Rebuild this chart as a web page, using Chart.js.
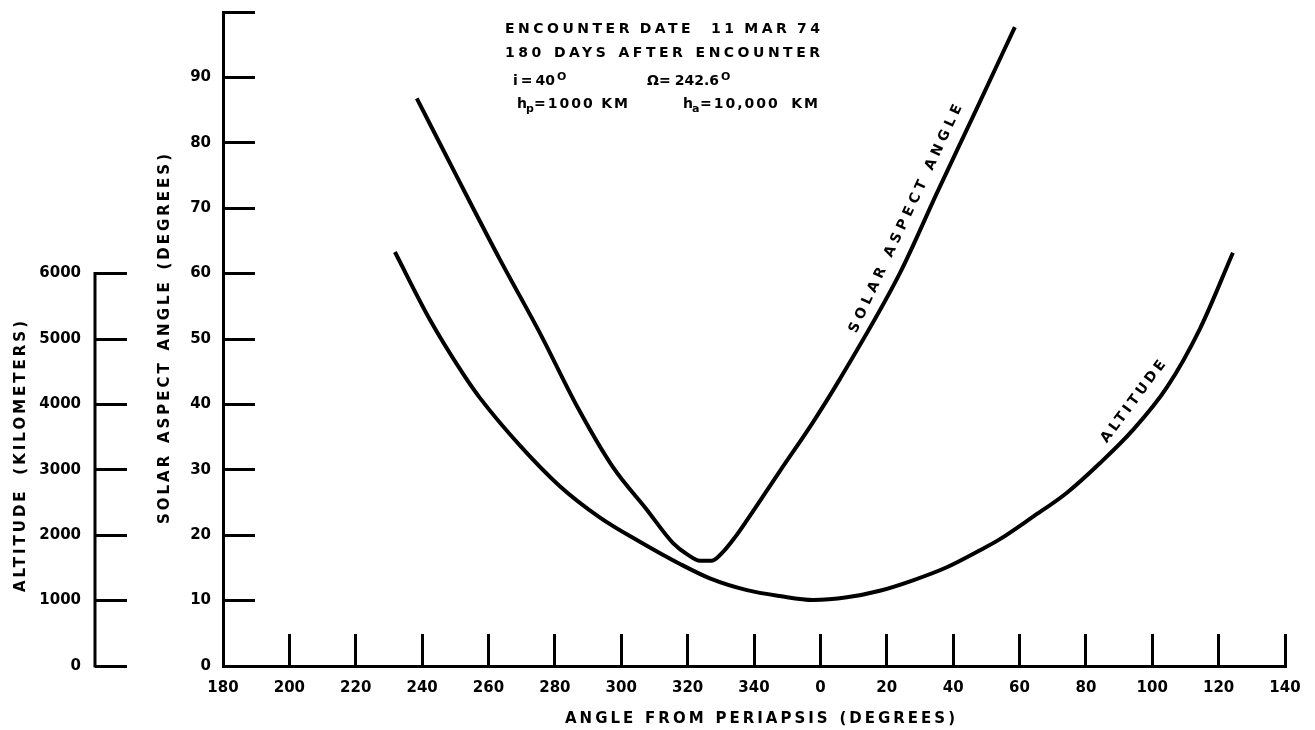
<!DOCTYPE html>
<html>
<head>
<meta charset="utf-8">
<title>Altitude and solar aspect angle vs angle from periapsis</title>
<script src="https://cdn.jsdelivr.net/npm/chart.js@4.4.0/dist/chart.umd.min.js"></script>
<style>
    html, body { margin: 0; padding: 0; background: #fff; }
    #wrap { width: 1315px; height: 730px; position: relative; }
</style>
</head>
<body>
<div id="wrap"><canvas id="orbitChart"></canvas></div>
<script>
// --- Values (angles as printed on the axis, 180..360..140) ---
const xTickStep = 20;
const xMin = -180;   // printed "180"
const xMax = 140;

const solarAngleDeg = [238.4, 251.4, 263.5, 275.5, 287.0, 297.5, 307.7, 315.6, 320.1, 323.7, 327.3, 330.6, 334.3, 337.9, 347.8, 357.8, 5.9, 24.0, 35.1, 46.9, 58.6];
const solarAspect   = [86.8, 73.9, 62.1, 50.9, 39.4, 30.4, 23.9, 18.8, 17.0, 16.1, 16.1, 17.4, 19.7, 22.3, 29.8, 37.3, 43.9, 60.1, 72.3, 85.0, 97.7];

const altAngleDeg = [231.8, 242.4, 252.3, 257.4, 269.5, 281.5, 293.6, 305.6, 317.7, 326.7, 337.9, 347.8, 357.8, 8.0, 17.9, 27.9, 38.1, 48.1, 54.1, 64.0, 74.3, 84.2, 94.2, 104.4, 114.4, 124.3];
const altitudeKm  = [6330, 5290, 4470, 4100, 3370, 2750, 2270, 1900, 1560, 1340, 1160, 1070, 1010, 1050, 1150, 1310, 1510, 1770, 1940, 2280, 2650, 3100, 3610, 4260, 5160, 6320];

const solarTickMax = 100;
const altTickMax = 6000;

const noteLines = ['ENCOUNTER DATE  11 MAR 74', '180 DAYS AFTER ENCOUNTER'];

const INK = '#000';
const FONT = '"DejaVu Sans", sans-serif';

// angles past 180 are drawn left of periapsis
const toAxis = a => (a >= 180 ? a - 360 : a);
const toLabel = v => String(v < 0 ? v + 360 : v);

Chart.defaults.font.family = FONT;
Chart.defaults.font.size = 15;
Chart.defaults.font.weight = 'bold';
Chart.defaults.color = INK;

// lettering: fixed tracking, word gaps stretched so the line fills `width`
function drawWords(ctx, text, x, y, width, tracking) {
    const words = text.split(' ');
    ctx.letterSpacing = '0px';
    const sizes = words.map(w => (w ? ctx.measureText(w).width + tracking * (w.length - 1) : 0));
    const used = sizes.reduce((a, b) => a + b, 0);
    const gap = words.length > 1 ? (width - used) / (words.length - 1) : 0;
    ctx.letterSpacing = tracking + 'px';
    let cx = x;
    words.forEach((w, i) => {
        if (w) ctx.fillText(w, cx, y);
        cx += sizes[i] + gap;
    });
    ctx.letterSpacing = '0px';
}

function labelOnCurve(ctx, xs, ys, from, to, start, text, width, tracking, offset) {
    const ax = xs.getPixelForValue(from[0]), ay = ys.getPixelForValue(from[1]);
    const bx = xs.getPixelForValue(to[0]), by = ys.getPixelForValue(to[1]);
    const ang = Math.atan2(by - ay, bx - ax);
    ctx.save();
    ctx.translate(xs.getPixelForValue(start[0]), ys.getPixelForValue(start[1]));
    ctx.rotate(ang);
    drawWords(ctx, text, 0, -offset, width, tracking);
    ctx.restore();
}

const decorPlugin = {
    id: 'decor',
    beforeDraw(chart) {
        chart.ctx.letterSpacing = '0px';
    },
    afterDraw(chart) {
        const { ctx, chartArea, scales: { x, y, alt } } = chart;
        ctx.save();
        ctx.fillStyle = INK;
        ctx.strokeStyle = INK;

        // altitude spine only runs 0..6000
        ctx.lineWidth = 3;
        ctx.beginPath();
        ctx.moveTo(alt.right, alt.getPixelForValue(0) + 1.5);
        ctx.lineTo(alt.right, alt.getPixelForValue(altTickMax) - 1.5);
        ctx.stroke();

        ctx.textAlign = 'left';
        ctx.textBaseline = 'alphabetic';

        // axis titles
        ctx.font = 'bold 15px ' + FONT;
        const midX = (chartArea.left + chartArea.right) / 2 + 6;
        drawWords(ctx, 'ANGLE FROM PERIAPSIS (DEGREES)', midX - 195, 723, 390, 3);

        ctx.save();
        ctx.translate(169, (chartArea.top + chartArea.bottom) / 2);
        ctx.rotate(-Math.PI / 2);
        drawWords(ctx, 'SOLAR ASPECT ANGLE (DEGREES)', -185, 0, 370, 3);
        ctx.restore();

        ctx.save();
        ctx.translate(25, 457);
        ctx.rotate(-Math.PI / 2);
        drawWords(ctx, 'ALTITUDE (KILOMETERS)', -135, 0, 271, 3);
        ctx.restore();

        // orbit notes
        ctx.font = 'bold 14px ' + FONT;
        drawWords(ctx, noteLines[0], 505, 33, 315, 3.5);
        drawWords(ctx, noteLines[1], 505, 57, 315, 3.5);
        drawWords(ctx, 'i = 40', 513, 85, 42, 0);
        drawWords(ctx, '\u03A9= 242.6', 647, 85, 72, 0);
        drawWords(ctx, 'h', 517, 108, 0, 0);
        drawWords(ctx, '=1000 KM', 534, 108, 94, 2);
        drawWords(ctx, 'h', 683, 108, 0, 0);
        drawWords(ctx, '=10,000 KM', 700, 108, 118, 2);
        ctx.font = 'bold 11px ' + FONT;
        ctx.fillText('O', 557, 80);
        ctx.fillText('O', 721, 80);
        ctx.fillText('p', 526, 112);
        ctx.fillText('a', 692, 112);

        // curve labels
        ctx.font = 'bold 14px ' + FONT;
        labelOnCurve(ctx, x, y, [24.0, 60.1], [46.9, 85.0], [13, 50.3], 'SOLAR ASPECT ANGLE', 250, 4.5, 8);
        labelOnCurve(ctx, x, alt, [84.2, 3100], [114.4, 5160], [88.5, 3319], 'ALTITUDE', 103, 3.5, 9);

        ctx.restore();
    }
};

// tick padding pushes labels clear of the inward ticks; keep it out of the layout padding
function fixPadding(s) {
    s.paddingTop = 0; s.paddingBottom = 0; s.paddingLeft = 0; s.paddingRight = 0;
}

const ctx = document.getElementById('orbitChart').getContext('2d');
new Chart(ctx, {
    type: 'line',
    data: {
        datasets: [
            {
                label: 'Solar aspect angle',
                data: solarAngleDeg.map((a, i) => ({ x: toAxis(a), y: solarAspect[i] })),
                yAxisID: 'y',
                borderColor: INK, borderWidth: 4, pointRadius: 0,
                cubicInterpolationMode: 'monotone', fill: false
            },
            {
                label: 'Altitude',
                data: altAngleDeg.map((a, i) => ({ x: toAxis(a), y: altitudeKm[i] })),
                yAxisID: 'alt',
                borderColor: INK, borderWidth: 4, pointRadius: 0,
                cubicInterpolationMode: 'monotone', fill: false
            }
        ]
    },
    options: {
        responsive: true, maintainAspectRatio: false, animation: false,
        layout: { padding: { top: 12, right: 30, left: 0, bottom: 0 } },
        plugins: { legend: { display: false }, tooltip: { enabled: false } },
        scales: {
            x: {
                type: 'linear', position: 'bottom', min: xMin, max: xMax,
                ticks: { stepSize: xTickStep, callback: v => toLabel(v), padding: 45, maxRotation: 0, autoSkip: false },
                grid: { drawOnChartArea: false, tickLength: -32, lineWidth: 3, color: INK },
                border: { color: INK, width: 3 },
                afterFit: s => { s.height = 64; fixPadding(s); }
            },
            y: {
                type: 'linear', position: 'left', weight: 0, min: 0, max: solarTickMax,
                ticks: { stepSize: 10, callback: v => (v === solarTickMax ? '' : String(v)), padding: 44 },
                grid: { drawOnChartArea: false, tickLength: -32, lineWidth: 3, color: INK },
                border: { color: INK, width: 3 },
                afterFit: s => { s.width = 128; fixPadding(s); }
            },
            alt: {
                type: 'linear', position: 'left', weight: 1, min: 0, max: 10000,
                ticks: { stepSize: 1000, callback: v => String(v), padding: 46 },
                afterBuildTicks: s => { s.ticks = s.ticks.filter(t => t.value <= altTickMax); },
                grid: { drawOnChartArea: false, tickLength: -32, lineWidth: 3, color: INK },
                border: { display: false },
                afterFit: s => { s.width = 95; fixPadding(s); }
            }
        }
    },
    plugins: [decorPlugin]
});
</script>
</body>
</html>
